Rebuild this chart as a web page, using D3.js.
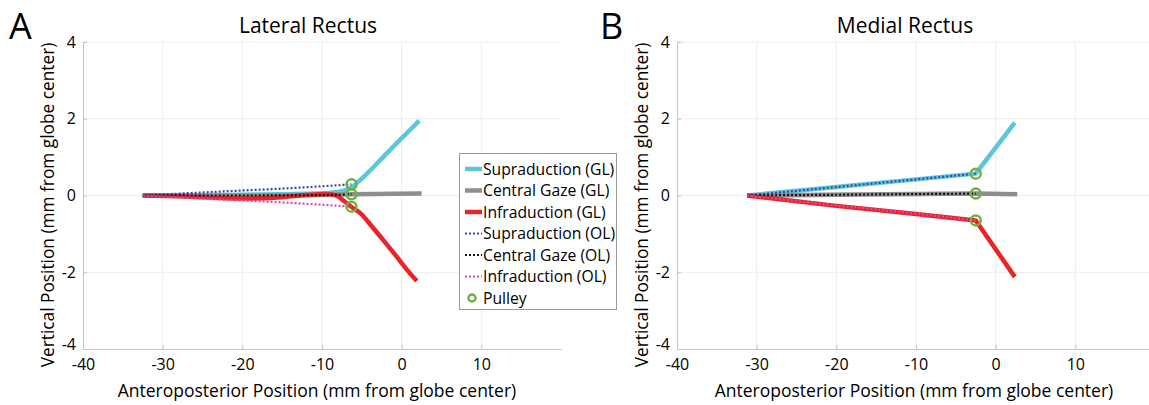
<!DOCTYPE html>
<html>
<head>
<meta charset="utf-8">
<script src="https://cdn.jsdelivr.net/npm/d3@7"></script>
<style>
  body { margin: 0; background: #fff; }
  text { font-family: "Open Sans", sans-serif; fill: #000; }
</style>
</head>
<body>
<svg id="chart" width="1149" height="405"></svg>
<script>
'use strict';

// ticks
const xTicks = [-40, -30, -20, -10, 0, 10];
const yTicks = [-4, -2, 0, 2, 4];

// Lateral Rectus (A) – [anteroposterior, vertical]
const latSupGL = [[-32.5, 0], [-28, 0], [-24, 0.01], [-20, 0.02], [-15, 0.03], [-11, 0.05], [-9, 0.07], [-7.5, 0.11], [-6.3, 0.21], [-5.5, 0.35], [-4.8, 0.48], [-3.5, 0.75], [-2, 1.07], [-0.5, 1.39], [1, 1.7], [2.2, 1.95]];
const latCenGL = [[-32.5, 0], [-20, 0], [-10, 0.02], [-6.3, 0.03], [2.5, 0.05]];
const latInfGL = [[-32.5, 0], [-28, -0.02], [-24, -0.05], [-20, -0.08], [-16, -0.06], [-12, 0.01], [-9.5, 0.04], [-8.2, 0], [-7.2, -0.15], [-6.3, -0.3], [-5.2, -0.46], [-3.6, -0.84], [-2, -1.24], [-0.6, -1.6], [0.65, -1.93], [1.9, -2.23]];
const latSupOL = [[-32.5, 0], [-25, 0.08], [-20, 0.13], [-15, 0.18], [-10, 0.24], [-6.3, 0.29]];
const latCenOL = [[-32.5, 0], [-20, 0], [-10, 0.01], [-6.3, 0.03]];
const latInfOL = [[-32.5, 0], [-25, -0.08], [-20, -0.13], [-15, -0.18], [-10, -0.24], [-6.3, -0.29]];
const latPulley = [[-6.3, 0.29], [-6.3, 0.03], [-6.3, -0.29]];

// Medial Rectus (B)
const medSupGL = [[-31.2, 0], [-20, 0.22], [-10, 0.42], [-2.5, 0.57], [2.4, 1.9]];
const medCenGL = [[-31.2, 0], [-2.5, 0.05], [2.7, 0.03]];
const medInfGL = [[-31.2, 0], [-20, -0.27], [-10, -0.48], [-2.5, -0.65], [2.4, -2.12]];
const medSupOL = [[-31.2, 0], [-20, 0.22], [-10, 0.42], [-2.5, 0.57]];
const medCenOL = [[-31.2, 0], [-2.5, 0.05]];
const medInfOL = [[-31.2, 0], [-20, -0.26], [-10, -0.47], [-2.5, -0.65]];
const medPulley = [[-2.5, 0.57], [-2.5, 0.05], [-2.5, -0.65]];

const legendNames = ['Supraduction (GL)', 'Central Gaze (GL)', 'Infraduction (GL)',
  'Supraduction (OL)', 'Central Gaze (OL)', 'Infraduction (OL)', 'Pulley'];

const colors = {
  sup: '#5ec6da', cen: '#8e8e8e', inf: '#e82429',
  supOL: '#3548b0', cenOL: '#111111', infOL: '#d64ca0', pulley: '#6cb33f'
};

const svg = d3.select('#chart');

function panel(opt) {
  const x = d3.scaleLinear().domain([-40, 20]).range([opt.left, opt.left + 478]);
  const y = d3.scaleLinear().domain([-4, 4]).range([349, 42]);
  const g = svg.append('g');

  // grid
  g.selectAll('.vgrid').data(xTicks.slice(1)).enter().append('line')
    .attr('x1', d => x(d)).attr('x2', d => x(d))
    .attr('y1', y(-4)).attr('y2', y(4))
    .attr('stroke', '#ececec').attr('stroke-width', 1);
  g.selectAll('.hgrid').data(yTicks.slice(1)).enter().append('line')
    .attr('x1', x(-40)).attr('x2', x(20))
    .attr('y1', d => y(d)).attr('y2', d => y(d))
    .attr('stroke', '#ececec').attr('stroke-width', 1);

  // axes (plain hyphen minus, like the source)
  const fmt = d => String(d);
  const xAxis = g.append('g').attr('transform', `translate(0,${y(-4)})`)
    .call(d3.axisBottom(x).tickValues(xTicks).tickFormat(fmt).tickSizeInner(-4).tickSizeOuter(0).tickPadding(10));
  const yAxis = g.append('g').attr('transform', `translate(${x(-40)},0)`)
    .call(d3.axisLeft(y).tickValues(yTicks).tickFormat(fmt).tickSizeInner(-4).tickSizeOuter(0).tickPadding(7));
  [xAxis, yAxis].forEach(a => {
    a.select('.domain').attr('stroke', '#c4c4c4');
    a.selectAll('.tick line').attr('stroke', '#c4c4c4');
    a.selectAll('.tick text').style('font-size', '16px').attr('fill', '#000');
  });
  // nudge the bottom-left "-4" up a little so it clears "-40"
  yAxis.selectAll('.tick text').filter(d => d === -4).attr('dy', '0.05em');

  // titles
  g.append('text').attr('x', opt.titleX).attr('y', 33).attr('text-anchor', 'middle')
    .style('font-size', '21px').text(opt.title);
  g.append('text').attr('x', opt.letterX).attr('y', 39)
    .style('font-size', '36px').text(opt.letter);
  g.append('text').attr('x', opt.titleX + 9).attr('y', 397).attr('text-anchor', 'middle')
    .style('font-size', '17.5px').text('Anteroposterior Position (mm from globe center)');
  g.append('text')
    .attr('transform', `translate(${opt.left - 29},205) rotate(-90)`)
    .attr('text-anchor', 'middle').style('font-size', '17.3px')
    .text('Vertical Position (mm from globe center)');

  const line = d3.line().x(d => x(d[0])).y(d => y(d[1])).curve(opt.curve);

  const solid = [[opt.sup, colors.sup], [opt.cen, colors.cen], [opt.inf, colors.inf]];
  solid.forEach(([data, c]) => {
    g.append('path').datum(data).attr('d', line).attr('fill', 'none')
      .attr('stroke', c).attr('stroke-width', 4.5).attr('stroke-linejoin', 'round');
  });
  const dotted = [[opt.supOL, colors.supOL], [opt.cenOL, colors.cenOL], [opt.infOL, colors.infOL]];
  dotted.forEach(([data, c]) => {
    g.append('path').datum(data).attr('d', line).attr('fill', 'none')
      .attr('stroke', c).attr('stroke-width', 2.2).attr('stroke-dasharray', '2,2');
  });

  g.selectAll('.pulley').data(opt.pulley).enter().append('circle')
    .attr('cx', d => x(d[0])).attr('cy', d => y(d[1])).attr('r', 5)
    .attr('fill', 'none').attr('stroke', colors.pulley).attr('stroke-width', 2.5);
}

panel({
  left: 83, title: 'Lateral Rectus', titleX: 308, letter: 'A', letterX: 9,
  sup: latSupGL, cen: latCenGL, inf: latInfGL,
  supOL: latSupOL, cenOL: latCenOL, infOL: latInfOL, pulley: latPulley,
  curve: d3.curveMonotoneX
});
panel({
  left: 677, title: 'Medial Rectus', titleX: 905, letter: 'B', letterX: 600,
  sup: medSupGL, cen: medCenGL, inf: medInfGL,
  supOL: medSupOL, cenOL: medCenOL, infOL: medInfOL, pulley: medPulley,
  curve: d3.curveLinear
});

// legend
const legend = svg.append('g');
legend.append('rect').attr('x', 459.5).attr('y', 153.5).attr('width', 157).attr('height', 156)
  .attr('fill', '#fff').attr('stroke', '#9a9a9a').attr('stroke-width', 1);
const legColors = [colors.sup, colors.cen, colors.inf, colors.supOL, colors.cenOL, colors.infOL, colors.pulley];
legendNames.forEach((name, i) => {
  const cy = 169 + i * 21.5;
  if (i < 3) {
    legend.append('line').attr('x1', 465).attr('x2', 482).attr('y1', cy).attr('y2', cy)
      .attr('stroke', legColors[i]).attr('stroke-width', 4.5);
  } else if (i < 6) {
    legend.append('line').attr('x1', 465).attr('x2', 482).attr('y1', cy).attr('y2', cy)
      .attr('stroke', legColors[i]).attr('stroke-width', 2).attr('stroke-dasharray', '2,2');
  } else {
    legend.append('circle').attr('cx', 472).attr('cy', cy).attr('r', 3.5)
      .attr('fill', 'none').attr('stroke', legColors[i]).attr('stroke-width', 2.5);
  }
  legend.append('text').attr('x', 483).attr('y', cy + 5.5)
    .style('font-size', '15.7px').text(name);
});
</script>
</body>
</html>
